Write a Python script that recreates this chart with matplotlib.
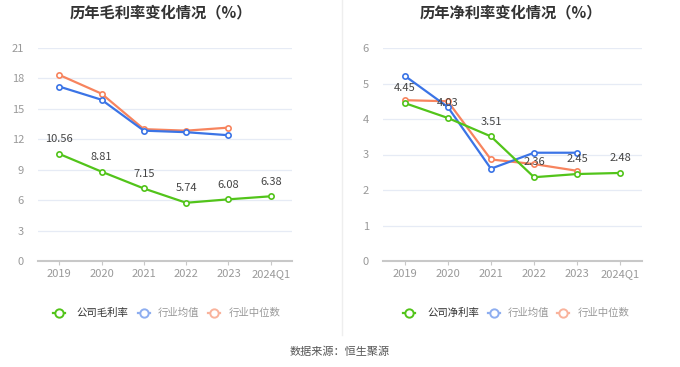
import matplotlib
matplotlib.use("Agg")
import matplotlib.pyplot as plt
from matplotlib.lines import Line2D

plt.rcParams['font.family'] = ['Noto Sans CJK SC', 'DejaVu Sans']

categories = ['2019', '2020', '2021', '2022', '2023', '2024Q1']

gross_company = [10.56, 8.81, 7.15, 5.74, 6.08, 6.38]
gross_ind_mean = [17.2, 15.9, 12.85, 12.7, 12.4]
gross_ind_median = [18.35, 16.5, 13.0, 12.85, 13.15]

net_company = [4.45, 4.03, 3.51, 2.36, 2.45, 2.48]
net_ind_mean = [5.22, 4.34, 2.60, 3.05, 3.05]
net_ind_median = [4.53, 4.50, 2.86, 2.73, 2.54]

gross_ticks = [0, 3, 6, 9, 12, 15, 18, 21]
net_ticks = [0, 1, 2, 3, 4, 5, 6]

titles = ['历年毛利率变化情况（%）', '历年净利率变化情况（%）']
legend_labels = [['公司毛利率', '行业均值', '行业中位数'],
                 ['公司净利率', '行业均值', '行业中位数']]
source = '数据来源：恒生聚源'

GREEN = '#52c41a'
BLUE = '#3b74e6'
ORANGE = '#f7845e'
BLUE_L = '#8eaef0'
ORANGE_L = '#f9b39c'

W, H = 680, 367
fig = plt.figure(figsize=(W / 100, H / 100), dpi=100)
fig.patch.set_facecolor('white')


def px_axes(x0, x1, ytop, ybot):
    return fig.add_axes([x0 / W, (H - ybot) / H, (x1 - x0) / W, (ybot - ytop) / H])


def draw(ax, comp, mean, med, ticks):
    x = list(range(len(categories)))
    mk = dict(marker='o', markersize=3.8, markerfacecolor='white', markeredgewidth=1.2,
              linewidth=1.6, clip_on=False)
    ax.plot(x[:len(med)], med, color=ORANGE, zorder=3, **mk)
    ax.plot(x[:len(mean)], mean, color=BLUE, zorder=4, **mk)
    ax.plot(x, comp, color=GREEN, zorder=5, **mk)
    for xi, v in zip(x, comp):
        ax.annotate(f'{v:.2f}', (xi, v), xytext=(0, 7), textcoords='offset points',
                    ha='center', va='bottom', fontsize=8, color='#444444', zorder=6)
    ax.set_xlim(-0.5, len(categories) - 0.5)
    ax.set_ylim(ticks[0], ticks[-1])
    ax.set_yticks(ticks)
    ax.set_yticklabels([str(t) for t in ticks])
    ax.set_xticks(x)
    ax.set_xticklabels(categories)
    ax.tick_params(axis='y', length=0, labelsize=8, labelcolor='#999999', pad=10)
    ax.tick_params(axis='x', length=3, color='#c8c8c8', labelsize=8, labelcolor='#999999', pad=3)
    ax.grid(axis='y', color='#e6ebf5', linewidth=0.9)
    ax.set_axisbelow(True)
    for s in ['top', 'right', 'left']:
        ax.spines[s].set_visible(False)
    ax.spines['bottom'].set_color('#c8c8c8')
    ax.spines['bottom'].set_linewidth(1.5)
    ax.spines['bottom'].set_zorder(2)


ax1 = px_axes(38, 292, 48, 261)
draw(ax1, gross_company, gross_ind_mean, gross_ind_median, gross_ticks)
ax2 = px_axes(383, 642, 48, 261)
draw(ax2, net_company, net_ind_mean, net_ind_median, net_ticks)

fig.text(161 / W, 1 - 12 / H, titles[0], ha='center', va='center', fontsize=11,
         fontweight='bold', color='#333333')
fig.text(511 / W, 1 - 12 / H, titles[1], ha='center', va='center', fontsize=11,
         fontweight='bold', color='#333333')

# divider
fig.add_artist(Line2D([342 / W, 342 / W], [1 - 335 / H, 1.0], color='#eeeeee', linewidth=1))


def legend(markers, texts, labels):
    cols = [GREEN, BLUE_L, ORANGE_L]
    tcols = ['#333333', '#999999', '#999999']
    y = 1 - 313 / H
    for xm, xt, lab, c, tc in zip(markers, texts, labels, cols, tcols):
        fig.add_artist(Line2D([(xm - 6) / W, (xm + 6) / W], [y, y], color=c, linewidth=1.6))
        fig.add_artist(Line2D([xm / W], [y], color=c, marker='o', markersize=6,
                              markerfacecolor='white', markeredgewidth=1.4))
        fig.text(xt / W, y, lab, ha='left', va='center', fontsize=7.5, color=tc)


legend([59, 144, 214], [76, 158, 229], legend_labels[0])
legend([409, 494, 563], [427, 508, 578], legend_labels[1])

fig.text(340 / W, 1 - 352 / H, source, ha='center', va='center', fontsize=8, color='#555555')

fig.savefig('out.png', dpi=100, facecolor='white')
